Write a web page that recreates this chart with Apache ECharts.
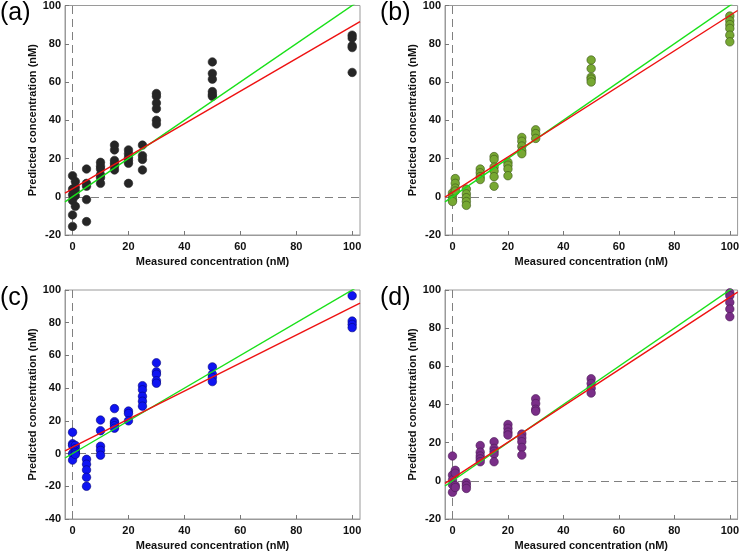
<!DOCTYPE html>
<html lang="en">

<head>
    <meta charset="UTF-8">
    <title>Predicted vs measured concentration</title>
    <style>
        html, body { margin: 0; padding: 0; background: #fff; }
        .show { width: 742px; height: 554px; }
    </style>
</head>

<body>
    <div class="show"></div>
    <script src="https://cdn.jsdelivr.net/npm/echarts@6/dist/echarts.min.js"></script>
    <script>
        /* measured concentration levels (nM), shared by all four panels */
        const levels = [0, 1, 5, 10, 15, 20, 25, 30, 50, 100]

        /* predicted values, one small array per measured level */
        const predictedA = [
            [11, 4, 1, -2, -9.5, -15.5],
            [8, 5, 3, 0.5, -5],
            [14.5, 7, 5.5, -1.5, -13],
            [18, 16, 14.5, 11.5, 10, 7],
            [27, 24.5, 19, 17.5, 16, 14],
            [24.5, 22.5, 20.5, 19, 17.5, 7],
            [27, 21.5, 19.5, 14],
            [54, 52.5, 49, 46, 40, 38],
            [70.5, 64.5, 61.5, 55, 53.5, 52.5],
            [84.5, 83, 79, 78, 65]
        ]
        const predictedB = [
            [2, 0.5, -1.5, -2.5],
            [9.5, 7, 4.5, 3],
            [4, 1.5, -0.5, -2.5, -4.5],
            [14.5, 12.5, 10.5, 9],
            [21, 19.5, 15.5, 13.5, 10.5, 5.5],
            [18, 16.5, 14.5, 11],
            [31, 29, 26.5, 24, 22.5],
            [35, 33, 30.5],
            [71.5, 67, 62.5, 61.5, 60],
            [94.5, 92, 90, 88, 84.5, 81]
        ]
        const predictedC = [
            [13, 6, 5, 0, -4],
            [5, 3, 1.5, 0.5, -0.5],
            [-3.5, -6.5, -10, -14.5, -20],
            [20.5, 14, 4.5, 2, -1],
            [27.5, 19.5, 18.5, 17, 15.5],
            [26, 24.5, 20],
            [41.5, 39, 35, 32, 29],
            [55.5, 50, 48.5, 44.5, 43],
            [53, 48.5, 46.5, 44],
            [96.5, 81, 79, 77]
        ]
        const predictedD = [
            [13, 3, 0.5, -2, -6],
            [5.5, 4, -2.5, -3.5],
            [-1, -2.5, -4],
            [18.5, 15, 13, 11.5, 10],
            [20.5, 17, 15.5, 14, 10],
            [29.5, 27.5, 25.5, 24],
            [24.5, 22.5, 20.5, 17.5, 13.5],
            [43, 40.5, 37.5, 36.5],
            [53.5, 51, 48.5, 46],
            [98.5, 97, 93.5, 90, 86]
        ]

        /* red fit line: [slope, intercept] per panel */
        const fitA = [0.85, 4.2]
        const fitB = [0.925, 2.3]
        const fitC = [0.857, 3.9]
        const fitD = [0.95, 1.2]

        const xTicks = [0, 20, 40, 60, 80, 100]
        const yMinList = [-20, -20, -40, -20]
        const panelLabels = ['(a)', '(b)', '(c)', '(d)']

        const xMin = -2.7
        const xMax = 102.8

        const panels = [
            { pred: predictedA, fit: fitA, fill: '#262626', edge: '#262626' },
            { pred: predictedB, fit: fitB, fill: '#77a832', edge: '#3a5418' },
            { pred: predictedC, fit: fitC, fill: '#0f14f2', edge: '#05057a' },
            { pred: predictedD, fit: fitD, fill: '#7a2e88', edge: '#4a1956' }
        ]

        const grids = [
            { left: 65, top: 5, width: 295, height: 230 },
            { left: 445, top: 5, width: 295, height: 230 },
            { left: 65, top: 290, width: 295, height: 229 },
            { left: 445, top: 290, width: 295, height: 229 }
        ]

        const frameColor = '#9a9a9a'
        const labelFont = { color: '#111', fontWeight: 'bold', fontSize: 11, fontFamily: 'Liberation Sans' }

        const myChart = echarts.init(document.querySelector('.show'))

        const xAxis = []
        const yAxis = []
        const series = []
        const graphic = []

        panels.forEach((p, i) => {
            xAxis.push({
                gridIndex: i,
                type: 'value',
                min: xMin,
                max: xMax,
                name: 'Measured concentration (nM)',
                nameLocation: 'middle',
                nameGap: 21,
                nameTextStyle: labelFont,
                axisLine: { onZero: false, lineStyle: { color: frameColor } },
                axisTick: { inside: true, length: 4, customValues: xTicks, lineStyle: { color: '#777' } },
                axisLabel: Object.assign({ margin: 6, customValues: xTicks }, labelFont),
                splitLine: { show: false }
            })
            yAxis.push({
                gridIndex: i,
                type: 'value',
                min: yMinList[i],
                max: 100,
                interval: 20,
                name: 'Predicted concentration (nM)',
                nameLocation: 'middle',
                nameGap: 26,
                nameTextStyle: labelFont,
                axisLine: { onZero: false, lineStyle: { color: frameColor } },
                axisTick: { inside: true, length: 4, lineStyle: { color: '#777' } },
                axisLabel: Object.assign({ margin: 4 }, labelFont),
                splitLine: { show: false }
            })

            const pts = []
            levels.forEach((lv, k) => {
                p.pred[k].forEach(v => pts.push([lv, v]))
            })

            series.push({
                type: 'scatter',
                xAxisIndex: i,
                yAxisIndex: i,
                data: pts,
                symbolSize: 8.5,
                itemStyle: { color: p.fill, borderColor: p.edge, borderWidth: 0.6, opacity: 1 },
                z: 2,
                markLine: {
                    silent: true,
                    symbol: 'none',
                    label: { show: false },
                    lineStyle: { color: '#808080', type: [8, 5], width: 1 },
                    data: [{ xAxis: 0 }, { yAxis: 0 }],
                    z: 1
                }
            })

            /* y = x reference line */
            series.push({
                type: 'line',
                xAxisIndex: i,
                yAxisIndex: i,
                data: [[xMin, xMin], [xMax, xMax]],
                symbol: 'none',
                lineStyle: { color: '#19e019', width: 1.4 },
                z: 3
            })
            /* fitted line */
            series.push({
                type: 'line',
                xAxisIndex: i,
                yAxisIndex: i,
                data: [[xMin, p.fit[0] * xMin + p.fit[1]], [xMax, p.fit[0] * xMax + p.fit[1]]],
                symbol: 'none',
                lineStyle: { color: '#ee1111', width: 1.4 },
                z: 4
            })

            graphic.push({
                type: 'text',
                left: grids[i].left - 65,
                top: grids[i].top - 4,
                style: { text: panelLabels[i], fontSize: 25, fontFamily: 'Liberation Sans', fill: '#000' }
            })
        })

        const option = {
            animation: false,
            grid: grids.map(g => Object.assign({ show: true, borderColor: frameColor, borderWidth: 1, backgroundColor: 'transparent' }, g)),
            xAxis: xAxis,
            yAxis: yAxis,
            series: series,
            graphic: graphic
        }

        myChart.setOption(option)
    </script>
</body>

</html>
